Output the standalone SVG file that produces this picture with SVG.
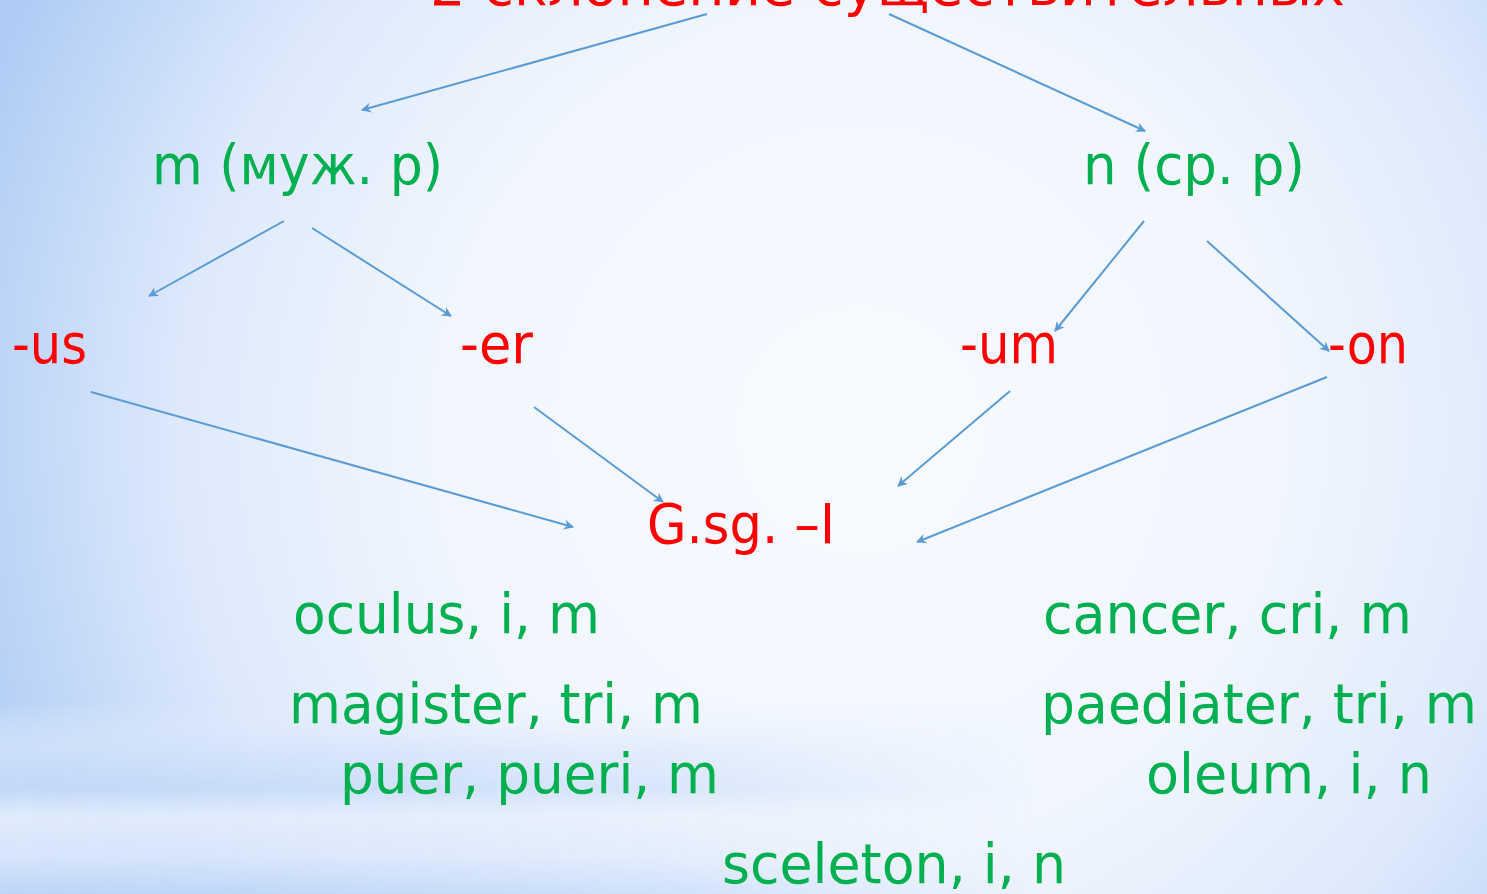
<svg xmlns="http://www.w3.org/2000/svg" width="1487" height="894" viewBox="0 0 1487 894">
<style>
.g{fill:#00B050;font-family:"DejaVu Sans","Noto Sans",sans-serif;font-size:56px}
.r{fill:#FF0000;font-family:"DejaVu Sans","Noto Sans",sans-serif;font-size:56px}
.c line{stroke:#5B9BD5;stroke-width:2;marker-end:url(#ah)}
</style>
<defs>
<radialGradient id="bg" cx="860" cy="430" r="950" gradientUnits="userSpaceOnUse">
<stop offset="0" stop-color="#F8FBFF"/>
<stop offset="0.45" stop-color="#F1F6FE"/>
<stop offset="0.72" stop-color="#DDE9FB"/>
<stop offset="1" stop-color="#ADCBF5"/>
</radialGradient>
<linearGradient id="band" x1="0" y1="700" x2="0" y2="894" gradientUnits="userSpaceOnUse">
<stop offset="0" stop-color="#E9F1FD" stop-opacity="0"/>
<stop offset="0.25" stop-color="#D3E3FA" stop-opacity="0.8"/>
<stop offset="0.45" stop-color="#C3D9F8" stop-opacity="0.9"/>
<stop offset="0.6" stop-color="#E6EFFC" stop-opacity="0.9"/>
<stop offset="0.8" stop-color="#DCE8FB" stop-opacity="0.9"/>
<stop offset="1" stop-color="#BDD5F7" stop-opacity="1"/>
</linearGradient>
<linearGradient id="fade" x1="0" y1="0" x2="1487" y2="0" gradientUnits="userSpaceOnUse">
<stop offset="0" stop-color="#fff" stop-opacity="1"/>
<stop offset="0.45" stop-color="#fff" stop-opacity="0.6"/>
<stop offset="0.7" stop-color="#fff" stop-opacity="0"/>
<stop offset="1" stop-color="#fff" stop-opacity="0"/>
</linearGradient>
<mask id="bm"><rect width="1487" height="894" fill="url(#fade)"/></mask>
<marker id="ah" viewBox="0 0 10 10" refX="9" refY="5" markerWidth="10" markerHeight="10" markerUnits="userSpaceOnUse" orient="auto">
<path d="M0,0 L10,5 L0,10 L3,5 Z" fill="#5B9BD5"/>
</marker>
</defs>
<rect width="1487" height="894" fill="url(#bg)"/>
<rect y="700" width="1487" height="194" fill="url(#band)" mask="url(#bm)"/>

<g id="title"><text class="r" x="430" y="5" textLength="915" lengthAdjust="spacingAndGlyphs">2 склонение существительных</text></g>
<g id="masc"><text class="g" x="152" y="184" textLength="291" lengthAdjust="spacingAndGlyphs">m (муж. р)</text></g>
<g id="neut"><text class="g" x="1083" y="184" textLength="222" lengthAdjust="spacingAndGlyphs">n (ср. р)</text></g>
<g id="us"><text class="r" x="12" y="363" textLength="75" lengthAdjust="spacingAndGlyphs">-us</text></g>
<g id="er"><text class="r" x="460" y="363" textLength="73" lengthAdjust="spacingAndGlyphs">-er</text></g>
<g id="um"><text class="r" x="960" y="363" textLength="98" lengthAdjust="spacingAndGlyphs">-um</text></g>
<g id="on"><text class="r" x="1328" y="363" textLength="80" lengthAdjust="spacingAndGlyphs">-on</text></g>
<g id="gsg"><text class="r" x="647" y="543" textLength="188" lengthAdjust="spacingAndGlyphs">G.sg. –I</text></g>
<g id="ex1"><text class="g" x="293" y="633" textLength="307" lengthAdjust="spacingAndGlyphs">oculus, i, m</text></g>
<g id="ex2"><text class="g" x="1043" y="633" textLength="369" lengthAdjust="spacingAndGlyphs">cancer, cri, m</text></g>
<g id="ex3"><text class="g" x="289" y="723" textLength="414" lengthAdjust="spacingAndGlyphs">magister, tri, m</text></g>
<g id="ex4"><text class="g" x="1041" y="723" textLength="436" lengthAdjust="spacingAndGlyphs">paediater, tri, m</text></g>
<g id="ex5"><text class="g" x="340" y="793" textLength="379" lengthAdjust="spacingAndGlyphs">puer, pueri, m</text></g>
<g id="ex6"><text class="g" x="1146" y="793" textLength="286" lengthAdjust="spacingAndGlyphs">oleum, i, n</text></g>
<g id="ex7"><text class="g" x="722" y="883" textLength="344" lengthAdjust="spacingAndGlyphs">sceleton, i, n</text></g>

<g id="connectors" class="c">
<line x1="707" y1="14" x2="362" y2="110"/>
<line x1="889" y1="14" x2="1145" y2="131"/>
<line x1="284" y1="221" x2="149" y2="296"/>
<line x1="312" y1="228" x2="451" y2="316"/>
<line x1="1144" y1="221" x2="1055" y2="331"/>
<line x1="1207" y1="241" x2="1329" y2="351"/>
<line x1="91" y1="392" x2="573" y2="527"/>
<line x1="534" y1="407" x2="663" y2="502"/>
<line x1="1010" y1="391" x2="898" y2="486"/>
<line x1="1327" y1="377" x2="917" y2="542"/>
</g>
</svg>
